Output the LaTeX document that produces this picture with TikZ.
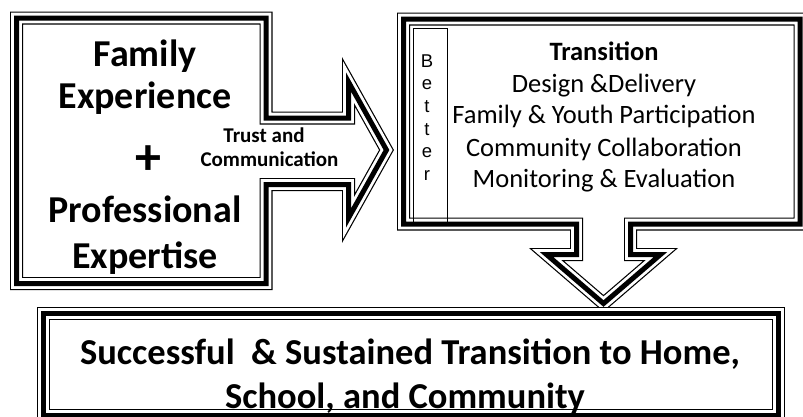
\documentclass[tikz,border=0pt]{standalone}
\usepackage{fontspec}
\setmainfont{Carlito}
\newfontfamily\letterfont{Liberation Sans}
\def\rimpath#1% Syntax: {closed path} -> thin/thick/thin frame along it
    { \draw[rim base] #1; \draw[rim gap] #1; \draw[rim core] #1; }
\tikzset{
  rim base/.style={line width=13pt, line join=miter, black},
  rim gap/.style={line width=10.6pt, line join=miter, white},
  rim core/.style={line width=5pt, line join=miter, black},
  big label/.style={font=\fontsize{38}{46}\selectfont\bfseries, anchor=base, inner sep=0pt},
  small label/.style={font=\fontsize{21}{25}\selectfont\bfseries, anchor=base, inner sep=0pt},
  list label/.style={font=\fontsize{26.5}{32}\selectfont, anchor=base, inner sep=0pt},
  goal label/.style={font=\fontsize{36.5}{44}\selectfont\bfseries, anchor=base, inner sep=0pt},
  letter label/.style={font=\letterfont\fontsize{18.5}{22}\selectfont, anchor=base, inner sep=0pt},
}

\begin{document}
\begin{tikzpicture}[x=1pt,y=-1pt]
   \useasboundingbox (0,0) rectangle (803,416);
   \clip (0,0) rectangle (803,416);

   % left frame, arrow pointing right
   \rimpath{(16.5,18) -- (266,18) -- (266,118) -- (348.5,118) -- (348.5,82) -- (386.5,150)
            -- (348.5,218) -- (348.5,184.5) -- (266,184.5) -- (266,283.5) -- (16.5,283.5) -- cycle}

   % right frame, arrow pointing down
   \rimpath{(403.5,19) -- (800,19) -- (800,224) -- (630.5,224) -- (630.5,254.5) -- (660.5,254.5)
            -- (603.5,303.5) -- (546.5,254.5) -- (576.5,254.5) -- (576.5,224) -- (403.5,224) -- cycle}

   % bottom frame
   \rimpath{(43.5,313.5) -- (778.5,313.5) -- (778.5,415) -- (43.5,415) -- cycle}

   % left text
   \node[big label] (family) at (145,66) {Family};
   \node[big label] (experience) at (145,108) {Experience};
   \node[font=\fontsize{52}{52}\selectfont\bfseries, inner sep=0pt] (plus) at (148,160) {+};
   \node[big label] (professional) at (145,222) {Professional};
   \node[big label] (expertise) at (145,268) {Expertise};

   \node[small label] (trust) at (264,142) {Trust and};
   \node[small label] (communication) at (269.5,166) {Communication};

   % better column
   \draw[line width=0.8pt] (413,28) rectangle (447,222);
   \foreach \ch [count=\i from 0] in {B,e,t,t,e,r}
      \node[letter label] (better\i) at (427,67+22.7*\i) {\ch};

   % right text
   \node[list label, font=\fontsize{26.5}{32}\selectfont\bfseries] (transition) at (604,60) {Transition};
   \node[list label] (design) at (604,92) {Design \&Delivery};
   \node[list label] (youth) at (604,123) {Family \& Youth Participation};
   \node[list label] (collab) at (604,156) {Community Collaboration};
   \node[list label] (monitor) at (604,187) {Monitoring \& Evaluation};

   % bottom text
   \node[goal label] (goal1) at (410,364) {Successful\ \ \& Sustained Transition to Home,};
   \node[goal label] (goal2) at (405,408) {School, and Community};
\end{tikzpicture}
\end{document}
